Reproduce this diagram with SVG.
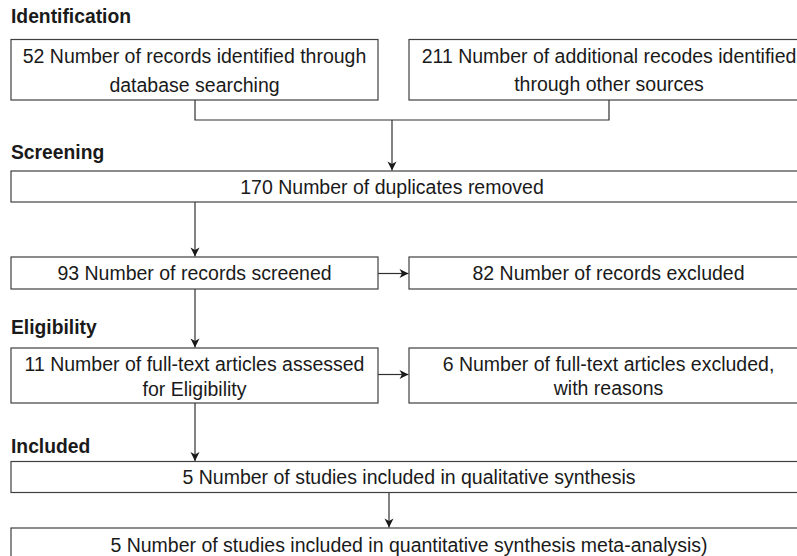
<svg xmlns="http://www.w3.org/2000/svg" width="797" height="556" viewBox="0 0 797 556">
<style>
.bg{fill:#ffffff}
.box{fill:#ffffff;stroke:#404040;stroke-width:1.2}
.t{font-family:"Liberation Sans",Arial,sans-serif;font-size:19.5px;fill:#1a1a1a;text-anchor:middle}
.h{font-family:"Liberation Sans",Arial,sans-serif;font-size:19.3px;font-weight:bold;fill:#1a1a1a}
.c{fill:none;stroke:#303030;stroke-width:1.2}
</style>
<defs>
<marker id="ah" markerUnits="userSpaceOnUse" markerWidth="12" markerHeight="12" viewBox="-1 -6 12 12" refX="9" refY="0" orient="auto">
<path d="M0,-4.5 L9,0 L0,4.5 L2.5,0 z" fill="#1a1a1a"/>
</marker>
</defs>
<rect class="bg" x="0" y="0" width="797" height="556"/>
<text class="h" x="11" y="23.3">Identification</text>
<text class="h" x="11" y="159.3">Screening</text>
<text class="h" x="11" y="334">Eligibility</text>
<text class="h" x="11" y="452.7">Included</text>
<g id="connectors">
<path class="c" d="M195,100 V120 H609 V100"/>
<path class="c" d="M392,120 V170.5" marker-end="url(#ah)"/>
<path class="c" d="M195,202 V256.5" marker-end="url(#ah)"/>
<path class="c" d="M378,273.5 H408.5" marker-end="url(#ah)"/>
<path class="c" d="M195,289 V347.5" marker-end="url(#ah)"/>
<path class="c" d="M378,374.5 H408.5" marker-end="url(#ah)"/>
<path class="c" d="M195,403 V461" marker-end="url(#ah)"/>
<path class="c" d="M389,492.5 V527.5" marker-end="url(#ah)"/>
</g>
<g id="n1">
<rect class="box" x="11" y="39.5" width="367" height="60.5"/>
<text class="t" x="194.5" y="63.3">52 Number of records identified through</text>
<text class="t" x="194.5" y="91.5">database searching</text>
</g>
<g id="n2">
<rect class="box" x="409" y="39.5" width="400" height="60.5"/>
<text class="t" x="609" y="63">211 Number of additional recodes identified</text>
<text class="t" x="609" y="91">through other sources</text>
</g>
<g id="n3">
<rect class="box" x="11" y="171" width="798" height="31"/>
<text class="t" x="392" y="194">170 Number of duplicates removed</text>
</g>
<g id="n4">
<rect class="box" x="11" y="257" width="367" height="32"/>
<text class="t" x="194.5" y="280">93 Number of records screened</text>
</g>
<g id="n5">
<rect class="box" x="409" y="257" width="400" height="32"/>
<text class="t" x="608.5" y="280">82 Number of records excluded</text>
</g>
<g id="n6">
<rect class="box" x="11" y="348" width="367" height="55"/>
<text class="t" x="194.5" y="370.7">11 Number of full-text articles assessed</text>
<text class="t" x="194.5" y="396">for Eligibility</text>
</g>
<g id="n7">
<rect class="box" x="409" y="348" width="400" height="55"/>
<text class="t" x="608.5" y="370.7">6 Number of full-text articles excluded,</text>
<text class="t" x="608.5" y="395">with reasons</text>
</g>
<g id="n8">
<rect class="box" x="11" y="461.5" width="798" height="31"/>
<text class="t" x="409" y="484">5 Number of studies included in qualitative synthesis</text>
</g>
<g id="n9">
<rect class="box" x="11" y="528" width="798" height="40"/>
<text class="t" x="409" y="551.7">5 Number of studies included in quantitative synthesis meta-analysis)</text>
</g>
</svg>
